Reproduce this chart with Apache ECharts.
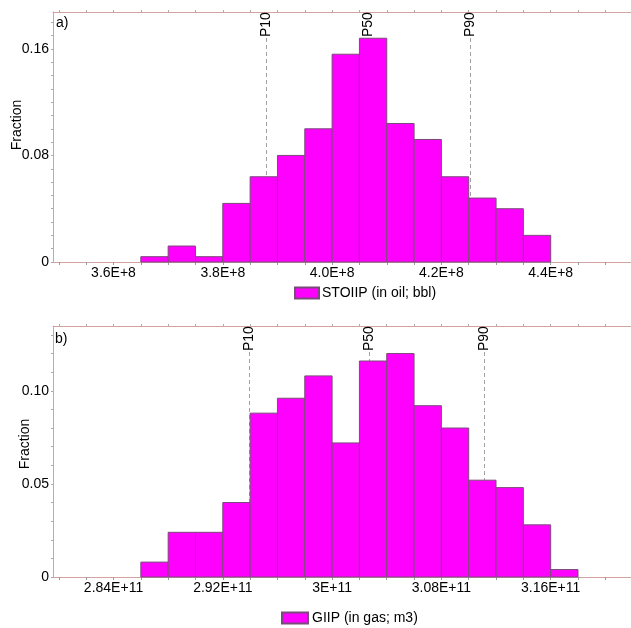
<!DOCTYPE html>
<html>
<head>
<meta charset="utf-8">
<script src="https://cdn.jsdelivr.net/npm/echarts@6/dist/echarts.min.js"></script>
<style>html,body{margin:0;padding:0;background:#fff;}#c{width:631px;height:628px;}</style>
</head>
<body>
<div id="c"></div>
<script>
// ---- a) STOIIP histogram ----
var stoiipBinEdges = [3.65e8, 3.70e8, 3.75e8, 3.80e8, 3.85e8, 3.90e8, 3.95e8, 4.00e8, 4.05e8, 4.10e8, 4.15e8, 4.20e8, 4.25e8, 4.30e8, 4.35e8, 4.40e8];
var stoiipFraction = [0.004, 0.012, 0.004, 0.044, 0.064, 0.080, 0.100, 0.156, 0.168, 0.104, 0.092, 0.064, 0.048, 0.040, 0.020];
var stoiipTickValues = [3.6e8, 3.8e8, 4.0e8, 4.2e8, 4.4e8];
var stoiipTickLabels = ['3.6E+8', '3.8E+8', '4.0E+8', '4.2E+8', '4.4E+8'];
var stoiipYTickValues = [0, 0.08, 0.16];
var stoiipYTickLabels = ['0', '0.08', '0.16'];
var stoiipPctNames = ['P10', 'P50', 'P90'];
var stoiipPctValues = [3.879e8, 4.065e8, 4.253e8];
var stoiipName = 'STOIIP (in oil; bbl)';

// ---- b) GIIP histogram ----
var giipBinEdges = [2.86e11, 2.88e11, 2.90e11, 2.92e11, 2.94e11, 2.96e11, 2.98e11, 3.00e11, 3.02e11, 3.04e11, 3.06e11, 3.08e11, 3.10e11, 3.12e11, 3.14e11, 3.16e11, 3.18e11];
var giipFraction = [0.008, 0.024, 0.024, 0.040, 0.088, 0.096, 0.108, 0.072, 0.116, 0.120, 0.092, 0.080, 0.052, 0.048, 0.028, 0.004];
var giipTickValues = [2.84e11, 2.92e11, 3.00e11, 3.08e11, 3.16e11];
var giipTickLabels = ['2.84E+11', '2.92E+11', '3E+11', '3.08E+11', '3.16E+11'];
var giipYTickValues = [0, 0.05, 0.10];
var giipYTickLabels = ['0', '0.05', '0.10'];
var giipPctNames = ['P10', 'P50', 'P90'];
var giipPctValues = [2.939e11, 3.027e11, 3.111e11];
var giipName = 'GIIP (in gas; m3)';

var FONT = "'Liberation Sans', Arial, sans-serif";
var FS = 14;
var AXIS_COLOR = '#d2a3a3';
var BAR_FILL = '#ff00ff';
var BAR_STROKE = '#7a4a7a';

function lookup(values, labels) {
  return function (v) {
    for (var i = 0; i < values.length; i++) {
      if (Math.abs(v - values[i]) <= Math.abs(values[i]) * 1e-9 + 1e-12) return labels[i];
    }
    return '';
  };
}
function seqTicks(from, to, step) {
  var out = [];
  for (var v = from; v <= to + step * 1e-6; v += step) out.push(v);
  return out;
}
function histData(edges, vals) {
  var d = [];
  for (var i = 0; i < vals.length; i++) d.push([edges[i], edges[i + 1], vals[i]]);
  return d;
}
function pctData(names, vals) {
  var d = [];
  for (var i = 0; i < vals.length; i++) d.push({ value: [vals[i]], name: names[i] });
  return d;
}
function renderBar(params, api) {
  var p0 = api.coord([api.value(0), 0]);
  var p1 = api.coord([api.value(1), api.value(2)]);
  return {
    type: 'rect',
    shape: { x: p0[0], y: p1[1], width: p1[0] - p0[0], height: p0[1] - p1[1] },
    style: { fill: BAR_FILL, stroke: BAR_STROKE, lineWidth: 1 }
  };
}
function makePctRender(names) {
  return function (params, api) {
    var cs = params.coordSys;
    var p = api.coord([api.value(0), 0]);
    var x = Math.round(p[0]) + 0.5;
    var yTop = cs.y + 26;
    return {
      type: 'group',
      children: [
        { type: 'line', shape: { x1: x, y1: yTop, x2: x, y2: p[1] },
          style: { stroke: '#a0a0a0', lineWidth: 1, lineDash: [4, 3] } },
        { type: 'text', x: x, y: yTop - 1, rotation: Math.PI / 2,
          style: { text: names[params.dataIndex], fill: '#000', font: FS + 'px ' + FONT,
                   align: 'left', verticalAlign: 'middle' } }
      ]
    };
  };
}

var gridTop = { left: 53, top: 12, right: 0, height: 250 };
var gridBot = { left: 53, top: 326, right: 0, height: 251 };

function xAxes(gi, min, max, tickVals, tickLabels, minorStep) {
  var minorTicks = seqTicks(tickVals[0] - minorStep * 4, max, minorStep).filter(function (v) { return v >= min; });
  return [
    { type: 'value', gridIndex: gi, position: 'bottom', min: min, max: max,
      axisLine: { show: true, lineStyle: { color: AXIS_COLOR, width: 1 } },
      axisTick: { show: true, customValues: minorTicks, length: 3, lineStyle: { color: '#999' } },
      axisLabel: { customValues: tickVals, formatter: lookup(tickVals, tickLabels), margin: 4,
                   fontFamily: FONT, fontSize: FS, color: '#000' },
      splitLine: { show: false } },
    { type: 'value', gridIndex: gi, position: 'top', min: min, max: max,
      axisLine: { show: true, lineStyle: { color: AXIS_COLOR, width: 1 } },
      axisTick: { show: true, customValues: minorTicks, length: 2, lineStyle: { color: '#aaa' } },
      axisLabel: { show: false },
      splitLine: { show: false } }
  ];
}
function yAxis(gi, max, tickVals, tickLabels, minorStep) {
  return { type: 'value', gridIndex: gi, min: 0, max: max,
    axisLine: { show: true, lineStyle: { color: AXIS_COLOR, width: 1 } },
    axisTick: { show: true, customValues: seqTicks(0, max, minorStep), length: 2, lineStyle: { color: '#aaa' } },
    axisLabel: { customValues: tickVals, formatter: lookup(tickVals, tickLabels), margin: 4,
                 fontFamily: FONT, fontSize: FS, color: '#000' },
    splitLine: { show: false } };
}

var xa = xAxes(0, 3.4893e8, 4.5469e8, stoiipTickValues, stoiipTickLabels, 5e6)
  .concat(xAxes(1, 2.7957e11, 3.2188e11, giipTickValues, giipTickLabels, 2e9));

var option = {
  animation: false,
  backgroundColor: '#fff',
  grid: [gridTop, gridBot],
  xAxis: xa,
  yAxis: [yAxis(0, 0.1877, stoiipYTickValues, stoiipYTickLabels, 0.01),
          yAxis(1, 0.1348, giipYTickValues, giipYTickLabels, 0.01)],
  legend: [
    { data: [stoiipName], left: 289, top: 281, itemWidth: 24, itemHeight: 11, icon: 'rect', itemGap: 3,
      textStyle: { fontFamily: FONT, fontSize: FS, color: '#000', padding: [0, 0, 0, -2] } },
    { data: [giipName], left: 276, top: 606, itemWidth: 26, itemHeight: 11, icon: 'rect',
      textStyle: { fontFamily: FONT, fontSize: FS, color: '#000', padding: [0, 0, 0, -1] } }
  ],
  graphic: [
    { type: 'text', x: 17, y: 125, rotation: Math.PI / 2,
      style: { text: 'Fraction', font: FS + 'px ' + FONT, fill: '#000', align: 'center', verticalAlign: 'middle' } },
    { type: 'text', x: 25, y: 444, rotation: Math.PI / 2,
      style: { text: 'Fraction', font: FS + 'px ' + FONT, fill: '#000', align: 'center', verticalAlign: 'middle' } },
    { type: 'text', x: 56, y: 23,
      style: { text: 'a)', font: FS + 'px ' + FONT, fill: '#000', align: 'left', verticalAlign: 'middle' } },
    { type: 'text', x: 55, y: 339,
      style: { text: 'b)', font: FS + 'px ' + FONT, fill: '#000', align: 'left', verticalAlign: 'middle' } }
  ],
  series: [
    { type: 'custom', name: 'P-stoiip', xAxisIndex: 0, yAxisIndex: 0, z: 1,
      renderItem: makePctRender(stoiipPctNames), data: pctData(stoiipPctNames, stoiipPctValues), silent: true },
    { type: 'custom', name: stoiipName, xAxisIndex: 0, yAxisIndex: 0, z: 2,
      itemStyle: { color: BAR_FILL, borderColor: BAR_STROKE, borderWidth: 1 },
      renderItem: renderBar, encode: { x: [0, 1], y: 2 }, data: histData(stoiipBinEdges, stoiipFraction) },
    { type: 'custom', name: 'P-giip', xAxisIndex: 2, yAxisIndex: 1, z: 1,
      renderItem: makePctRender(giipPctNames), data: pctData(giipPctNames, giipPctValues), silent: true },
    { type: 'custom', name: giipName, xAxisIndex: 2, yAxisIndex: 1, z: 2,
      itemStyle: { color: BAR_FILL, borderColor: BAR_STROKE, borderWidth: 1 },
      renderItem: renderBar, encode: { x: [0, 1], y: 2 }, data: histData(giipBinEdges, giipFraction) }
  ]
};
var chart = echarts.init(document.getElementById('c'), null, { renderer: 'canvas' });
chart.setOption(option);
</script>
</body>
</html>
